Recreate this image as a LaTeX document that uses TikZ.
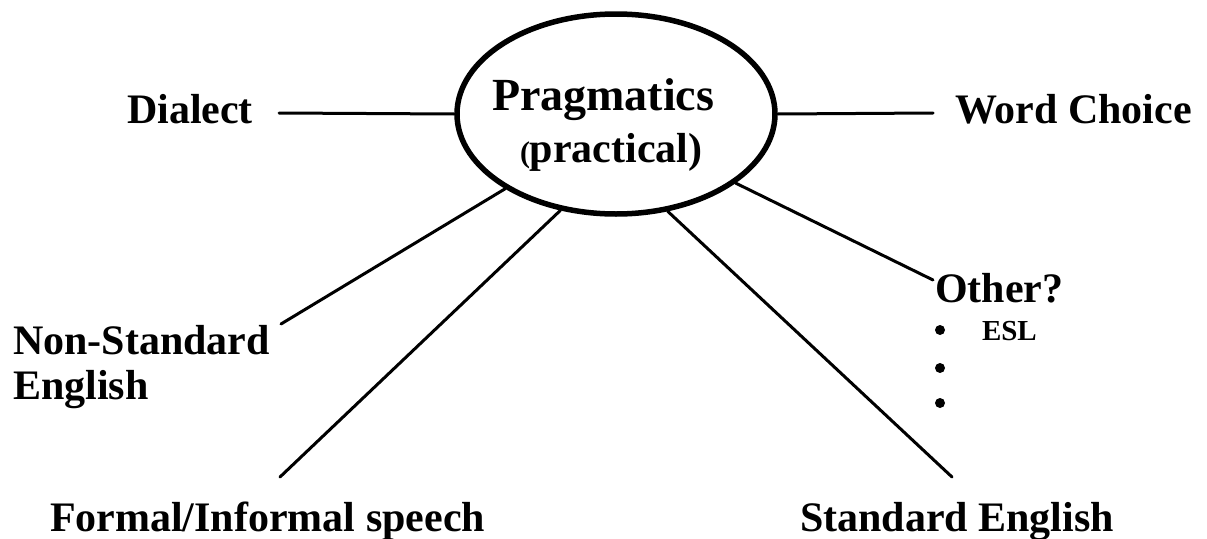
\documentclass[tikz,border=0pt]{standalone}
\usepackage{fontspec}
\setmainfont{Liberation Serif}
\usetikzlibrary{shapes.geometric}
\begin{document}
\begin{tikzpicture}[x=1pt,y=-1pt,
  lbl/.style={inner sep=0pt,outer sep=0pt,font=\fontsize{42}{45}\selectfont\bfseries},
  big/.style={inner sep=0pt,outer sep=0pt,font=\fontsize{46}{48}\selectfont\bfseries},
  small/.style={inner sep=0pt,outer sep=0pt,font=\fontsize{29}{32}\selectfont\bfseries},
  conn/.style={line width=3pt,line cap=round},
  hub/.style={ellipse,draw,line width=5.5pt,minimum width=318pt,minimum height=200pt,inner sep=0pt},
  dot/.style={circle,fill,inner sep=0pt,minimum size=10pt}]
\useasboundingbox[fill=white] (0,0) rectangle (1207,538);
% hub
\node[hub] (P) at (616,114) {};
\node[big,anchor=base west] (prag) at (492,110) {Pragmatics};
\node[lbl,anchor=base west] (pract) at (520,162) {{\fontsize{30}{30}\selectfont(}practical)};
% labels
\node[lbl,anchor=base west] (dia) at (127,123) {Dialect};
\node[lbl,anchor=base west] (wc) at (955,123) {Word Choice};
\node[lbl,anchor=north west,align=left] (nse) at (13,325) {Non-Standard\\English};
\node[lbl,anchor=base west] (fi) at (50,531) {Formal/Informal speech};
\node[lbl,anchor=base west] (se) at (800,531) {Standard English};
\node[lbl,anchor=base west] (oth) at (935,302) {Other?};
\node[small,anchor=base west] (esl) at (982,340) {ESL};
\node[dot] (b1) at (940,330) {};
\node[dot] (b2) at (940,368) {};
\node[dot] (b3) at (940,403) {};
% free ends of connectors
\coordinate (cd) at (279,113);
\coordinate (cw) at (933,113);
\coordinate (cn) at (281,324);
\coordinate (cf) at (280,477);
\coordinate (cs) at (952,477);
\coordinate (co) at (933,280);
% connectors
\draw[conn] (cd) -- (P.west);
\draw[conn] (P.east) -- (cw);
\draw[conn] (P.214.6) -- (cn);
\draw[conn] (P.240.7) -- (cf);
\draw[conn] (P.298.9) -- (cs);
\draw[conn] (P.330.6) -- (co);
\end{tikzpicture}
\end{document}
